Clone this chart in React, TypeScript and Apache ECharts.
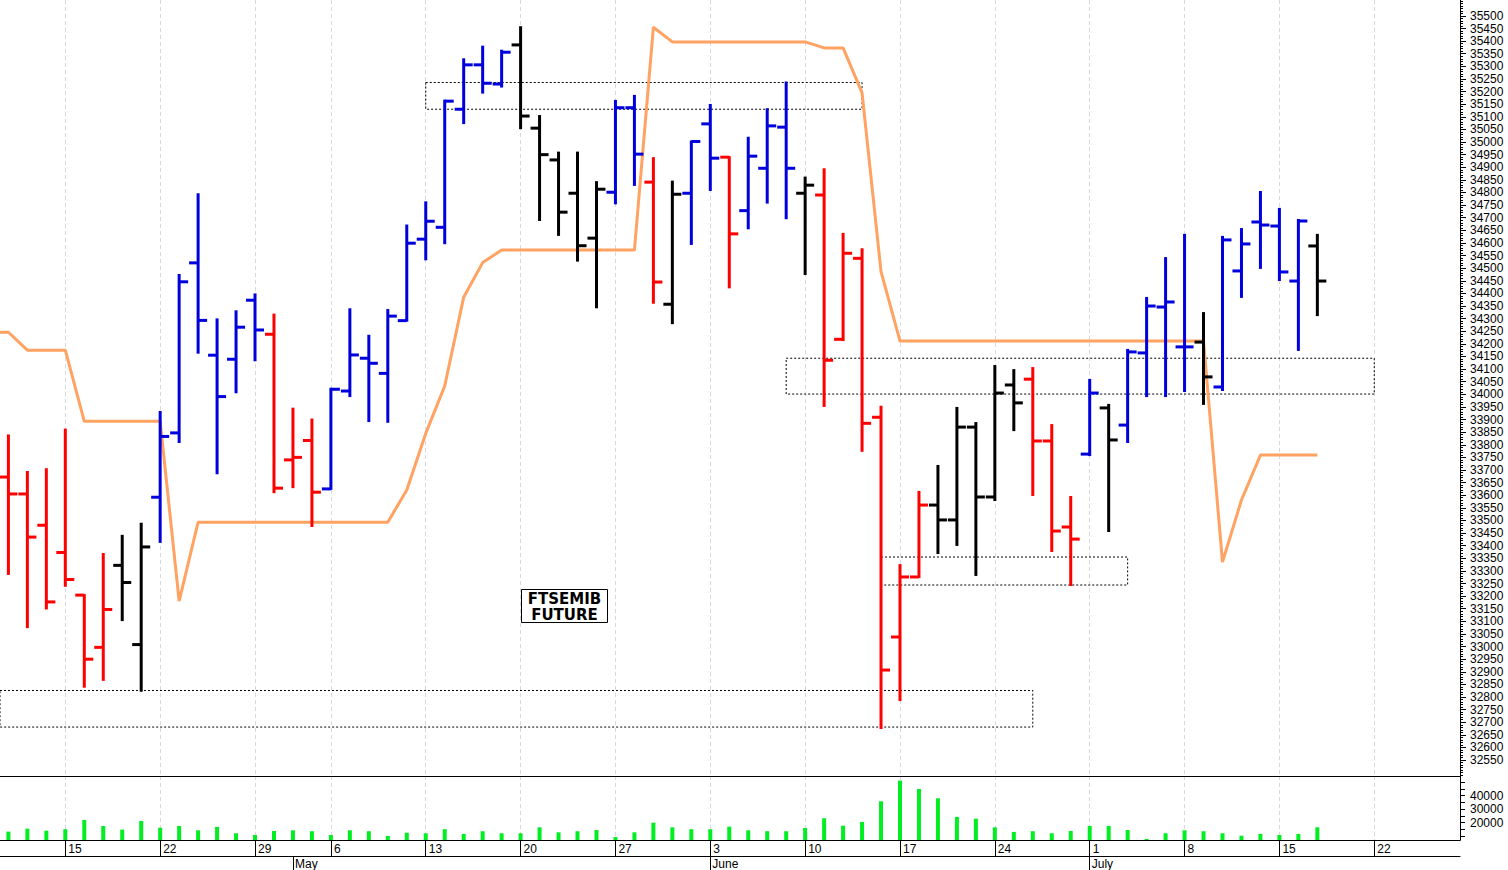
import React, { useEffect, useRef } from 'react';
import * as echarts from 'echarts';

// Trading days shown on the axis (index 0 = 9 Apr 2024; 1 May is a holiday)
const DATES = [
  '2024-04-09', '2024-04-10', '2024-04-11', '2024-04-12', '2024-04-15', '2024-04-16', '2024-04-17', '2024-04-18', '2024-04-19',
  '2024-04-22', '2024-04-23', '2024-04-24', '2024-04-25', '2024-04-26', '2024-04-29', '2024-04-30',
  '2024-05-02', '2024-05-03', '2024-05-06', '2024-05-07', '2024-05-08', '2024-05-09', '2024-05-10',
  '2024-05-13', '2024-05-14', '2024-05-15', '2024-05-16', '2024-05-17', '2024-05-20', '2024-05-21', '2024-05-22', '2024-05-23', '2024-05-24',
  '2024-05-27', '2024-05-28', '2024-05-29', '2024-05-30', '2024-05-31',
  '2024-06-03', '2024-06-04', '2024-06-05', '2024-06-06', '2024-06-07', '2024-06-10', '2024-06-11', '2024-06-12', '2024-06-13', '2024-06-14',
  '2024-06-17', '2024-06-18', '2024-06-19', '2024-06-20', '2024-06-21', '2024-06-24', '2024-06-25', '2024-06-26', '2024-06-27', '2024-06-28',
  '2024-07-01', '2024-07-02', '2024-07-03', '2024-07-04', '2024-07-05', '2024-07-08', '2024-07-09', '2024-07-10', '2024-07-11', '2024-07-12',
  '2024-07-15', '2024-07-16', '2024-07-17', '2024-07-18', '2024-07-19', '2024-07-22', '2024-07-23', '2024-07-24', '2024-07-25', '2024-07-26',
];
const MONTH_NAMES = ['January', 'February', 'March', 'April', 'May', 'June', 'July', 'August', 'September', 'October', 'November', 'December'];

// OHLC bars start at DATES[1] (10 Apr) and end 17 Jul
const BAR_START = 1;
const OPEN = [
  33672, 33605, 33481, 33373, 33204, 32997, 33322, 33008, 33592, 33847,
  34521, 34155, 34139, 34373, 34238, 33740, 33817, 33625, 34013, 34143,
  34083, 34292, 34615, 34662, 35130, 35306, 35230, 35385, 35055, 34929,
  34797, 34619, 34801, 35136, 34841, 34357, 34797, 35072, 34940, 34728,
  34896, 35059, 34797, 34790, 34218, 34539, 33909, 33038, 33276, 33561,
  33502, 33870, 33593, 34037, 34060, 33815, 33474, 33763, 33946, 33878,
  34164, 34346, 34188, 34207, 34029, 34489, 34683, 34667, 34449, 34588,
];
const HIGH = [
  33837, 33692, 33703, 33860, 33204, 33367, 33439, 33487, 33930, 34473,
  34793, 34297, 34329, 34396, 34316, 33943, 33900, 34022, 34337, 34232,
  34334, 34669, 34761, 35164, 35328, 35378, 35362, 35455, 35103, 34958,
  34958, 34841, 35163, 35183, 34936, 34843, 35002, 35147, 34940, 35017,
  35130, 35236, 34859, 34892, 34636, 34575, 33951, 33323, 33613, 33716,
  33946, 33886, 34112, 34096, 34104, 33878, 33593, 34057, 33958, 34176,
  34382, 34540, 34632, 34322, 34624, 34655, 34802, 34735, 34691, 34632,
];
const LOW = [
  33288, 33077, 33151, 33241, 32841, 32868, 33105, 32825, 33415, 33811,
  34165, 33687, 34008, 34135, 33612, 33632, 33478, 33625, 33993, 33894,
  33891, 34292, 34535, 34599, 35075, 35196, 35220, 35055, 34691, 34632,
  34530, 34345, 34757, 34830, 34363, 34282, 34596, 34810, 34424, 34658,
  34760, 34698, 34477, 33954, 34215, 33776, 32677, 32788, 33276, 33371,
  33403, 33284, 33581, 33858, 33601, 33379, 33244, 33759, 33458, 33811,
  33993, 33993, 34013, 33962, 34017, 34386, 34501, 34453, 34176, 34314,
];
const CLOSE = [
  33605, 33434, 33177, 33266, 32950, 33147, 33254, 33395, 33833, 34446,
  34293, 33991, 34266, 34255, 33628, 33750, 33612, 34020, 34156, 34123,
  34310, 34599, 34686, 35162, 35306, 35233, 35356, 35103, 34950, 34722,
  34589, 34813, 35136, 34952, 34445, 34793, 35002, 34936, 34636, 34944,
  35064, 34896, 34829, 34135, 34559, 33885, 32907, 33276, 33561, 33502,
  33870, 33593, 34005, 33966, 33815, 33458, 33426, 34005, 33819, 34168,
  34350, 34366, 34188, 34069, 34612, 34596, 34671, 34485, 34687, 34449,
];
// 1 = up signal (blue), -1 = down signal (red), 0 = neutral (black)
const SIGNAL = [
  -1, -1, -1, -1, -1, -1, 0, 0, 1, 1,
  1, 1, 1, 1, -1, -1, -1, 1, 1, 1,
  1, 1, 1, 1, 1, 1, 1, 0, 0, 0,
  0, 0, 1, 1, -1, 0, 1, 1, -1, 1,
  1, 1, 0, -1, -1, -1, -1, -1, -1, 0,
  0, 0, 0, 0, -1, -1, -1, 1, 0, 1,
  1, 1, 1, 0, 1, 1, 1, 1, 1, 0,
];
const VOLUME = [
  13400, 15600, 14100, 15200, 22000, 17600, 14900, 21300, 16300, 17600,
  14400, 16900, 12200, 10900, 13900, 14400, 13700, 10900, 14400, 13700,
  10200, 12600, 12200, 15200, 11700, 13700, 12200, 12200, 16600, 12900,
  13700, 14600, 9400, 12900, 20000, 16600, 15200, 15200, 17100, 14400,
  13700, 13700, 16100, 23300, 17800, 20600, 35900, 51200, 45000, 38100,
  24300, 23000, 16600, 13200, 13700, 12200, 13900, 17600, 17600, 14600,
  8000, 12200, 14400, 13700, 12200, 10400, 11700, 10900, 11700, 16600,
];
// Trailing stop line, starts at DATES[0]
const TRAIL_START = 0;
const TRAIL = [
  34246, 34246, 34175, 34175, 34175, 33893, 33893, 33893, 33893, 33893,
  33180, 33493, 33493, 33493, 33493, 33493, 33493, 33493, 33493, 33493,
  33493, 33493, 33621, 33845, 34033, 34385, 34522, 34572, 34572, 34572,
  34572, 34572, 34572, 34572, 34572, 35455, 35397, 35397, 35397, 35397,
  35397, 35397, 35397, 35397, 35373, 35373, 35195, 34486, 34211, 34211,
  34211, 34211, 34211, 34211, 34211, 34211, 34211, 34211, 34211, 34211,
  34211, 34211, 34211, 34211, 34211, 33335, 33581, 33759, 33759, 33759,
  33759,
];
// Dotted zones: [from date, to date, upper price, lower price]
const ZONES: [string, string, number, number][] = [
  ['2024-05-13', '2024-06-13', 35236, 35130],
  ['2024-06-07', '2024-07-22', 34143, 34001],
  ['2024-06-14', '2024-07-03', 33355, 33244],
  ['2024-04-09', '2024-06-26', 32826, 32681],
];

const PRICE_MIN = 32487;
const PRICE_MAX = 35563;
const PRICE_LABEL_FROM = 32550;
const PRICE_LABEL_TO = 35500;
const PRICE_LABEL_STEP = 50;
const PRICE_MINOR_STEP = 10;
const VOL_MIN = 7200;
const VOL_MAX = 54600;
const VOL_LABELS = [20000, 30000, 40000];
const VOL_TICKS = [10000, 15000, 20000, 25000, 30000, 35000, 40000, 45000, 50000];
const X_MIN = 0.557;
const X_MAX = 77.52;

const RED = '#ff0000';
const BLUE = '#0000dd';
const BLACK = '#000000';
const ORANGE = '#ffa262';
const GREEN = '#00ee22';
const FONT = 'Liberation Sans';

export default function App() {
  const ref = useRef<HTMLDivElement>(null);

  useEffect(() => {
    if (!ref.current) return;
    const chart = echarts.init(ref.current, undefined, { renderer: 'svg' });

    const dayOfWeek = (d: string) => new Date(d + 'T00:00:00Z').getUTCDay();
    const mondays = DATES.map((d, i) => (dayOfWeek(d) === 1 ? i : -1)).filter((i) => i >= 0);
    const monthStarts = DATES.map((d, i) => (i > 0 && d.slice(5, 7) !== DATES[i - 1].slice(5, 7) ? i : -1)).filter((i) => i >= 0);

    const priceLabels: number[] = [];
    for (let v = PRICE_LABEL_FROM; v <= PRICE_LABEL_TO; v += PRICE_LABEL_STEP) priceLabels.push(v);
    const priceMinor: number[] = [];
    for (let v = PRICE_LABEL_FROM - 60; v <= PRICE_MAX; v += PRICE_MINOR_STEP) if (v >= PRICE_MIN) priceMinor.push(v);

    const ohlc = OPEN.map((o, i) => [BAR_START + i, o, HIGH[i], LOW[i], CLOSE[i], SIGNAL[i]]);
    const vol = VOLUME.map((v, i) => [BAR_START + i, v]);
    const trail = TRAIL.map((v, i) => [TRAIL_START + i, v]);
    const idx = (d: string) => DATES.indexOf(d);

    const labelStyle = { fontFamily: FONT, fontSize: 12, color: '#000' };
    const splitLine = { show: true, lineStyle: { color: '#d8d8e0', type: [4, 3] as any, width: 1 } };
    const plain = (v: number) => String(Math.round(v));

    chart.setOption({
      animation: false,
      backgroundColor: '#ffffff',
      grid: [
        { left: 0, right: 48, top: 0, height: 776 },
        { left: 0, right: 48, top: 776, height: 64 },
      ],
      xAxis: [
        {
          type: 'value', gridIndex: 0, min: X_MIN, max: X_MAX,
          axisLine: { show: true, onZero: false, lineStyle: { color: '#000', width: 1 } },
          axisTick: { show: false, customValues: mondays },
          axisLabel: { show: false },
          splitLine,
        },
        {
          type: 'value', gridIndex: 1, min: X_MIN, max: X_MAX, position: 'bottom',
          axisLine: { show: true, onZero: false, lineStyle: { color: '#000', width: 1 } },
          axisTick: { show: true, customValues: mondays, length: 16, lineStyle: { color: '#000' } },
          axisLabel: {
            show: true, customValues: mondays, ...labelStyle, align: 'left', margin: 3, padding: [0, 0, 0, 3],
            formatter: (v: number) => String(parseInt(DATES[Math.round(v)].slice(8, 10), 10)),
          },
          splitLine,
        },
        {
          type: 'value', gridIndex: 1, min: X_MIN, max: X_MAX, position: 'bottom', offset: 16,
          axisLine: { show: true, onZero: false, lineStyle: { color: '#000', width: 1 } },
          axisTick: { show: true, customValues: monthStarts, length: 14, lineStyle: { color: '#000' } },
          axisLabel: {
            show: true, customValues: monthStarts, ...labelStyle, align: 'left', margin: 2, padding: [0, 0, 0, 2],
            formatter: (v: number) => MONTH_NAMES[parseInt(DATES[Math.round(v)].slice(5, 7), 10) - 1],
          },
          splitLine: { show: false },
        },
      ],
      yAxis: [
        {
          type: 'value', gridIndex: 0, position: 'right', min: PRICE_MIN, max: PRICE_MAX,
          axisLine: { show: true, lineStyle: { color: '#000', width: 1 } },
          axisTick: { show: true, customValues: priceLabels, length: 6, lineStyle: { color: '#000' } },
          axisLabel: { show: true, customValues: priceLabels, ...labelStyle, margin: 10, formatter: plain },
          splitLine: { show: false },
        },
        {
          type: 'value', gridIndex: 0, position: 'right', min: PRICE_MIN, max: PRICE_MAX,
          axisLine: { show: false },
          axisTick: { show: true, customValues: priceMinor, length: 3, lineStyle: { color: '#000' } },
          axisLabel: { show: false },
          splitLine: { show: false },
        },
        {
          type: 'value', gridIndex: 1, position: 'right', min: VOL_MIN, max: VOL_MAX,
          axisLine: { show: true, lineStyle: { color: '#000', width: 1 } },
          axisTick: { show: true, customValues: VOL_TICKS, length: 5, lineStyle: { color: '#000' } },
          axisLabel: { show: true, customValues: VOL_LABELS, ...labelStyle, margin: 10, formatter: plain },
          splitLine: { show: false },
        },
      ],
      series: [
        {
          type: 'line', name: 'trail', xAxisIndex: 0, yAxisIndex: 0, data: trail,
          showSymbol: false, symbol: 'none', z: 2,
          lineStyle: { color: ORANGE, width: 3 },
          markArea: {
            silent: true,
            label: { show: false },
            itemStyle: { color: 'rgba(0,0,0,0)', borderColor: '#000', borderWidth: 1, borderType: [2, 2] as any },
            data: ZONES.map(([a, b, hi, lo]) => [{ coord: [idx(a), hi] }, { coord: [idx(b), lo] }]),
          },
        },
        {
          type: 'custom', name: 'ohlc', xAxisIndex: 0, yAxisIndex: 0, z: 3,
          data: ohlc,
          encode: { x: 0, y: [1, 2, 3, 4] },
          renderItem: (_p: any, api: any) => {
            const x = api.value(0);
            const s = api.value(5);
            const color = s > 0 ? BLUE : s < 0 ? RED : BLACK;
            const pO = api.coord([x, api.value(1)]);
            const pH = api.coord([x, api.value(2)]);
            const pL = api.coord([x, api.value(3)]);
            const pC = api.coord([x, api.value(4)]);
            const w = 9;
            const st = { stroke: color, lineWidth: 3, lineCap: 'butt' };
            return {
              type: 'group',
              children: [
                { type: 'line', shape: { x1: pH[0], y1: pH[1] - 1, x2: pL[0], y2: pL[1] + 1 }, style: st },
                { type: 'line', shape: { x1: pO[0] - w, y1: pO[1], x2: pO[0], y2: pO[1] }, style: st },
                { type: 'line', shape: { x1: pC[0], y1: pC[1], x2: pC[0] + w, y2: pC[1] }, style: st },
              ],
            };
          },
        },
        {
          type: 'custom', name: 'volume', xAxisIndex: 1, yAxisIndex: 2,
          data: vol,
          encode: { x: 0, y: 1 },
          renderItem: (_p: any, api: any) => {
            const x = api.value(0);
            const top = api.coord([x, api.value(1)]);
            const base = api.coord([x, VOL_MIN]);
            return {
              type: 'rect',
              shape: { x: top[0] - 2, y: top[1], width: 4, height: base[1] - top[1] },
              style: { fill: GREEN },
            };
          },
        },
      ],
      graphic: [
        {
          type: 'group', left: 521, top: 589,
          children: [
            { type: 'rect', shape: { x: 0, y: 0, width: 86, height: 33 }, style: { fill: '#fff', stroke: '#000', lineWidth: 1 } },
            {
              type: 'text', x: 43, y: 9,
              style: { text: 'FTSEMIB', fill: '#000', font: 'bold 15px "DejaVu Sans"', textAlign: 'center', align: 'center', textVerticalAlign: 'middle', verticalAlign: 'middle' },
            },
            {
              type: 'text', x: 43, y: 25,
              style: { text: 'FUTURE', fill: '#000', font: 'bold 15px "DejaVu Sans"', textAlign: 'center', align: 'center', textVerticalAlign: 'middle', verticalAlign: 'middle' },
            },
          ],
        },
      ],
    });

    return () => chart.dispose();
  }, []);

  return <div ref={ref} style={{ position: 'fixed', left: 0, top: 0, width: '1508px', height: '870px', background: '#fff' }} />;
}
